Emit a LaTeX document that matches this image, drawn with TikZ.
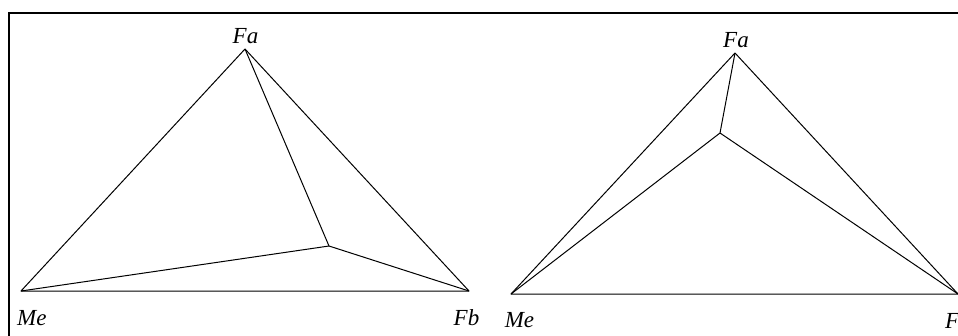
\documentclass[tikz,border=0pt]{standalone}
\usepackage{fontspec}
\setmainfont{Liberation Serif}
\begin{document}
\begin{tikzpicture}[x=1pt,y=-1pt,
  edge/.style={line width=1pt, line join=round},
  frame/.style={line width=2pt},
  lbl/.style={inner sep=0pt, font=\fontsize{23}{26}\selectfont\itshape}]
\useasboundingbox (0,0) rectangle (958,335);
% frame
\coordinate (fbl) at (9,336);
\coordinate (ftl) at (9,13);
\coordinate (ftr) at (959,13);
\draw[frame] (fbl) -- (ftl) -- (ftr);
% left triangle
\coordinate (MeL) at (21,291);
\coordinate (FaL) at (245,49);
\coordinate (FbL) at (469,291);
\coordinate (PL) at (329,246);
\draw[edge] (MeL) -- (FaL) -- (FbL) -- cycle;
\draw[edge] (MeL) -- (PL);
\draw[edge] (FaL) -- (PL);
\draw[edge] (FbL) -- (PL);
% right triangle
\coordinate (MeR) at (511,294);
\coordinate (FaR) at (735,53);
\coordinate (FbR) at (958,294);
\coordinate (PR) at (720,133);
\draw[edge] (MeR) -- (FaR) -- (FbR) -- cycle;
\draw[edge] (MeR) -- (PR);
\draw[edge] (FaR) -- (PR);
\draw[edge] (FbR) -- (PR);
% labels
\node[lbl, anchor=base] (tFaL) at (245.5,43) {Fa};
\node[lbl, anchor=base west] (tMeL) at (17,325) {Me};
\node[lbl, anchor=base] (tFbL) at (466.5,325) {Fb};
\node[lbl, anchor=base] (tMeR) at (519.5,327) {Me};
\node[lbl, anchor=base] (tFaR) at (736,47) {Fa};
\node[lbl, anchor=base west] (tFbR) at (945,328) {Fb};
\end{tikzpicture}
\end{document}
